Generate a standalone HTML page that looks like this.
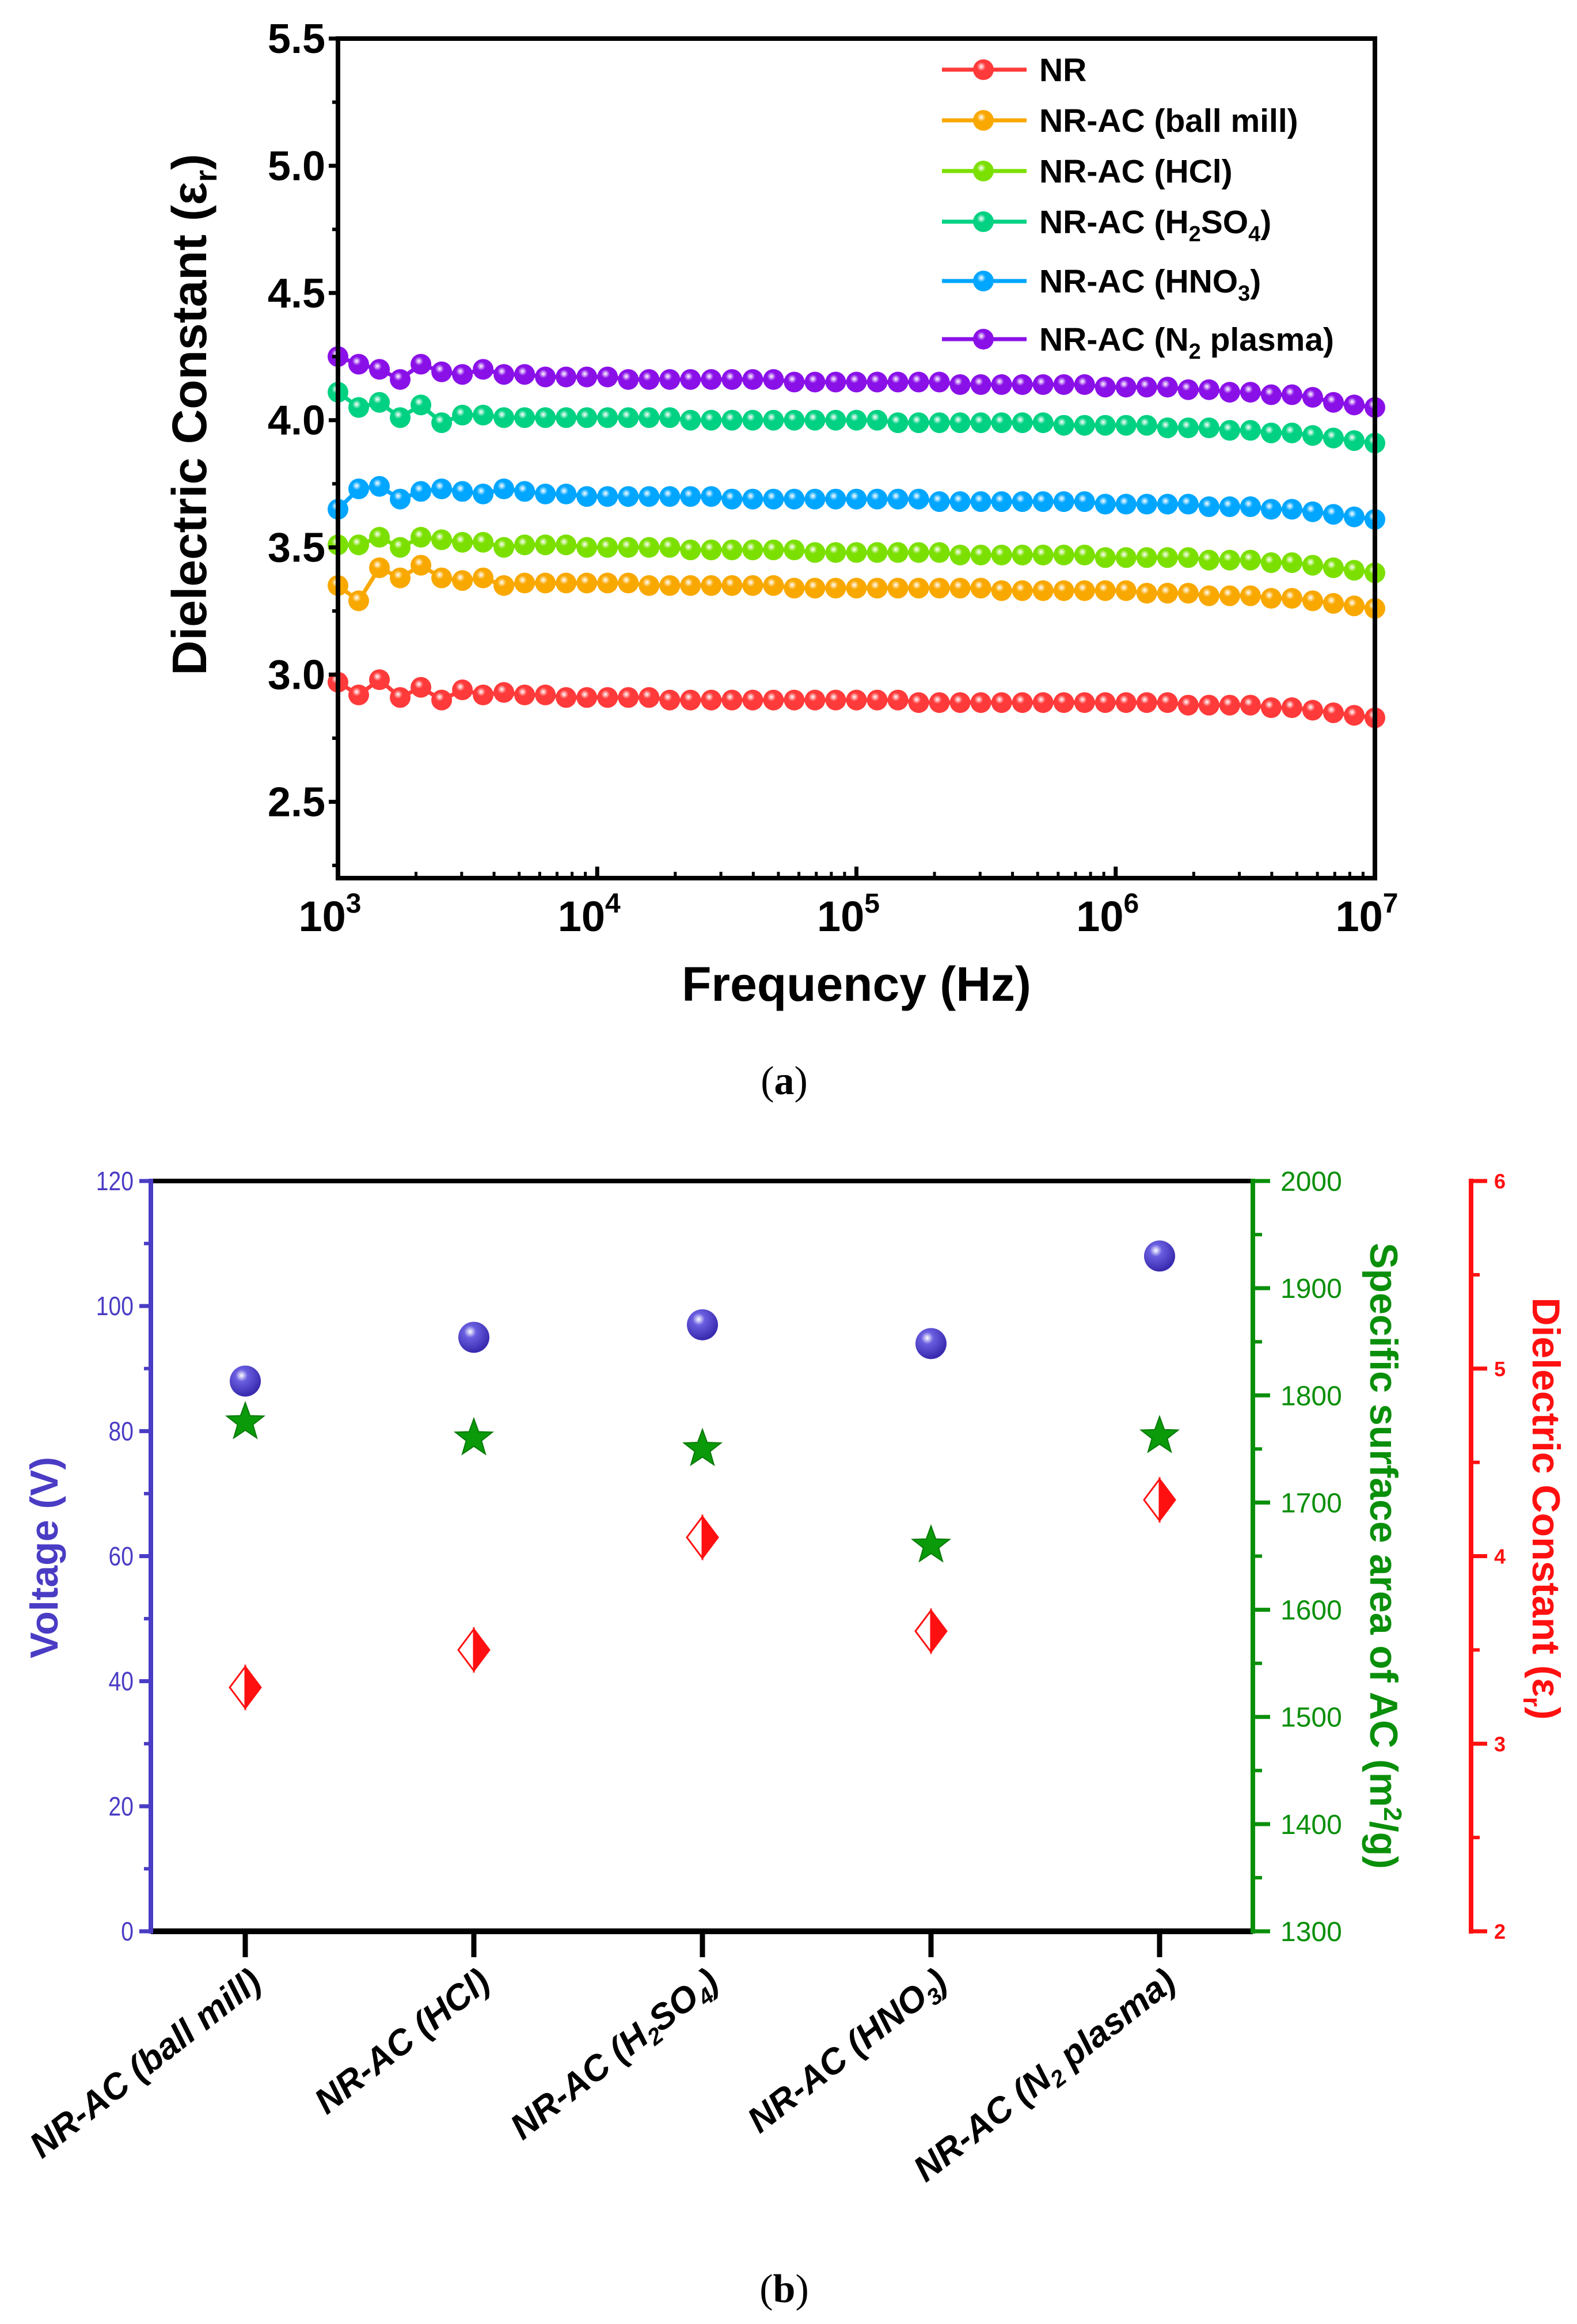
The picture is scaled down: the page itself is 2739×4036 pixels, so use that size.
<!DOCTYPE html>
<html><head><meta charset="utf-8"><style>
html,body{margin:0;padding:0;background:#fff}
svg{display:block}
text{font-family:"Liberation Sans",sans-serif}
</style></head><body>
<svg id="fig" width="2739" height="4036" viewBox="0 0 2739 4036" xmlns="http://www.w3.org/2000/svg">
<defs id="defs"></defs>
<g id="topChart"></g>
<g id="botChart"></g>
<text x="1362" y="1900" font-size="70" text-anchor="middle" style="font-family:'Liberation Serif',serif">(<tspan font-weight="bold">a</tspan>)</text>
<text x="1362" y="3998" font-size="70" text-anchor="middle" style="font-family:'Liberation Serif',serif">(<tspan font-weight="bold">b</tspan>)</text>
</svg>
<script>
// ---------- Chart (a) data ----------
const freqExp = [3.00,3.08,3.16,3.24,3.32,3.40,3.48,3.56,3.64,3.72,3.80,3.88,3.96,4.04,4.12,4.20,4.28,4.36,4.44,4.52,4.60,4.68,4.76,4.84,4.92,5.00,5.08,5.16,5.24,5.32,5.40,5.48,5.56,5.64,5.72,5.80,5.88,5.96,6.04,6.12,6.20,6.28,6.36,6.44,6.52,6.60,6.68,6.76,6.84,6.92,7.00];
const seriesNames = ["NR","NR-AC (ball mill)","NR-AC (HCl)","NR-AC (H2SO4)","NR-AC (HNO3)","NR-AC (N2 plasma)"];
const nrVals = [2.97,2.92,2.98,2.91,2.95,2.90,2.94,2.92,2.93,2.92,2.92,2.91,2.91,2.91,2.91,2.91,2.90,2.90,2.90,2.90,2.90,2.90,2.90,2.90,2.90,2.90,2.90,2.90,2.89,2.89,2.89,2.89,2.89,2.89,2.89,2.89,2.89,2.89,2.89,2.89,2.89,2.88,2.88,2.88,2.88,2.87,2.87,2.86,2.85,2.84,2.83];
const ballVals = [3.35,3.29,3.42,3.38,3.43,3.38,3.37,3.38,3.35,3.36,3.36,3.36,3.36,3.36,3.36,3.35,3.35,3.35,3.35,3.35,3.35,3.35,3.34,3.34,3.34,3.34,3.34,3.34,3.34,3.34,3.34,3.34,3.33,3.33,3.33,3.33,3.33,3.33,3.33,3.32,3.32,3.32,3.31,3.31,3.31,3.30,3.30,3.29,3.28,3.27,3.26];
const hclVals = [3.51,3.51,3.54,3.50,3.54,3.53,3.52,3.52,3.50,3.51,3.51,3.51,3.50,3.50,3.50,3.50,3.50,3.49,3.49,3.49,3.49,3.49,3.49,3.48,3.48,3.48,3.48,3.48,3.48,3.48,3.47,3.47,3.47,3.47,3.47,3.47,3.47,3.46,3.46,3.46,3.46,3.46,3.45,3.45,3.45,3.44,3.44,3.43,3.42,3.41,3.40];
const h2so4Vals = [4.11,4.05,4.07,4.01,4.06,3.99,4.02,4.02,4.01,4.01,4.01,4.01,4.01,4.01,4.01,4.01,4.01,4.00,4.00,4.00,4.00,4.00,4.00,4.00,4.00,4.00,4.00,3.99,3.99,3.99,3.99,3.99,3.99,3.99,3.99,3.98,3.98,3.98,3.98,3.98,3.97,3.97,3.97,3.96,3.96,3.95,3.95,3.94,3.93,3.92,3.91];
const hno3Vals = [3.65,3.73,3.74,3.69,3.72,3.73,3.72,3.71,3.73,3.72,3.71,3.71,3.70,3.70,3.70,3.70,3.70,3.70,3.70,3.69,3.69,3.69,3.69,3.69,3.69,3.69,3.69,3.69,3.69,3.68,3.68,3.68,3.68,3.68,3.68,3.68,3.68,3.67,3.67,3.67,3.67,3.67,3.66,3.66,3.66,3.65,3.65,3.64,3.63,3.62,3.61];
const n2Vals = [4.25,4.22,4.20,4.16,4.22,4.19,4.18,4.20,4.18,4.18,4.17,4.17,4.17,4.17,4.16,4.16,4.16,4.16,4.16,4.16,4.16,4.16,4.15,4.15,4.15,4.15,4.15,4.15,4.15,4.15,4.14,4.14,4.14,4.14,4.14,4.14,4.14,4.13,4.13,4.13,4.13,4.12,4.12,4.11,4.11,4.10,4.10,4.09,4.07,4.06,4.05];
const yTicksA = [2.5,3.0,3.5,4.0,4.5,5.0,5.5];
const xTicksA = [3,4,5,6,7];
// ---------- Chart (b) data ----------
const categories = ["ball mill","HCl","H2SO4","HNO3","N2 plasma"];
const voltageVals = [88,95,97,94,108];
const surfaceVals = [1775,1760,1750,1660,1762];
const dielVals = [3.3,3.5,4.1,3.6,4.3];
const voltTicks = [0,20,40,60,80,100,120];
const surfTicks = [1300,1400,1500,1600,1700,1800,1900,2000];
const dielTicks = [2,3,4,5,6];

const NS="http://www.w3.org/2000/svg";
function mk(tag,attrs,parent){const e=document.createElementNS(NS,tag);for(const k in attrs)e.setAttribute(k,attrs[k]);if(parent)parent.appendChild(e);return e;}
const defsEl=document.getElementById('defs');

// ===== Chart A =====
const A={l:587,r:2388,t:67,b:1525,ymin:2.2,ymax:5.5,xmin:3,xmax:7};
const ax=v=>A.l+(v-A.xmin)/(A.xmax-A.xmin)*(A.r-A.l);
const ay=v=>A.b-(v-A.ymin)/(A.ymax-A.ymin)*(A.b-A.t);
const topG=document.getElementById('topChart');
const colors=["#ff3a3a","#f9a800","#7be000","#00d182","#00a6ff","#8a10e8"];
const allVals=[nrVals,ballVals,hclVals,h2so4Vals,hno3Vals,n2Vals];
colors.forEach((c,i)=>{
  const g=mk('radialGradient',{id:'g'+i,cx:'0.4',cy:'0.35',r:'0.6'},defsEl);
  mk('stop',{offset:'0','stop-color':'#ffffff'},g);
  mk('stop',{offset:'0.35','stop-color':c},g);
  mk('stop',{offset:'1','stop-color':c},g);
});
allVals.forEach((vals,i)=>{
  const sg=mk('g',{},topG);
  
  
  const n=Math.min(vals.length,freqExp.length);
  let d='';
  for(let k=0;k<n;k++){d+=(k?'L':'M')+ax(freqExp[k]).toFixed(1)+','+ay(vals[k]).toFixed(1);}
  mk('path',{d:d,fill:'none',stroke:colors[i],'stroke-width':7},sg);
  for(let k=0;k<n;k++){
    const c=mk('circle',{cx:ax(freqExp[k]),cy:ay(vals[k]),r:18,fill:'url(#g'+i+')'},sg);
    
    
  }
});
const fr=mk('rect',{x:A.l,y:A.t,width:A.r-A.l,height:A.b-A.t,fill:'none',stroke:'#000','stroke-width':8},topG);


yTicksA.forEach(v=>{
  mk('line',{x1:A.l-16,x2:A.l,y1:ay(v),y2:ay(v),stroke:'#000','stroke-width':7},topG);
  mk('line',{x1:A.l-10,x2:A.l,y1:ay(v-0.25),y2:ay(v-0.25),stroke:'#000','stroke-width':6},topG);
  const t=mk('text',{x:A.l-22,y:ay(v)+25,'font-size':72,'font-weight':'bold','text-anchor':'end'},topG);
  t.textContent=v.toFixed(1);
  
  
});
xTicksA.forEach(e=>{
  mk('line',{x1:ax(e),x2:ax(e),y1:A.b,y2:A.b-20,stroke:'#000','stroke-width':7},topG);
  if(e<7){for(let m=2;m<10;m++){const xx=ax(e+Math.log10(m));mk('line',{x1:xx,x2:xx,y1:A.b,y2:A.b-11,stroke:'#000','stroke-width':5},topG);}}
  const t=mk('text',{x:ax(e)-14,y:A.b+92,'font-size':74,'font-weight':'bold','text-anchor':'middle'},topG);
  t.innerHTML='10<tspan font-size="48" dy="-32">'+e+'</tspan>';
  
  
});
let tt=mk('text',{x:(A.l+A.r)/2,y:1738,'font-size':84,'font-weight':'bold','text-anchor':'middle'},topG);
tt.textContent='Frequency (Hz)';


tt=mk('text',{x:0,y:0,'font-size':84,'font-weight':'bold','text-anchor':'middle',transform:'translate(358,720) rotate(-90)'},topG);
tt.innerHTML='Dielectric Constant (ε<tspan font-size="54" dy="18">r</tspan><tspan dy="-18">)</tspan>';


const legLabels=['NR','NR-AC (ball mill)','NR-AC (HCl)','NR-AC (H<tspan font-size="38" dy="14">2</tspan><tspan dy="-14">SO</tspan><tspan font-size="38" dy="14">4</tspan><tspan dy="-14">)</tspan>','NR-AC (HNO<tspan font-size="38" dy="14">3</tspan><tspan dy="-14">)</tspan>','NR-AC (N<tspan font-size="38" dy="14">2</tspan><tspan dy="-14"> plasma)</tspan>'];
const legY=[121,209,297,385,488,589];
legLabels.forEach((lab,i)=>{
  const g=mk('g',{},topG);
  
  
  mk('line',{x1:1636,x2:1783,y1:legY[i],y2:legY[i],stroke:colors[i],'stroke-width':7},g);
  mk('circle',{cx:1708,cy:legY[i],r:18,fill:'url(#g'+i+')'},g);
  const t=mk('text',{x:1805,y:legY[i]+20,'font-size':57,'font-weight':'bold'},g);
  t.innerHTML=lab;
});

// ===== Chart B =====
const B={l:262,r:2176,t:2051,b:3354,redX:2555};
const botG=document.getElementById('botChart');
const bx=i=>426+i*397;
const yV=v=>B.b-v/120*(B.b-B.t);
const yS=v=>B.b-(v-1300)/700*(B.b-B.t);
const yD=v=>B.b-(v-2)/4*(B.b-B.t);
const blue='#4a3cc4',green='#0a8f0a',red='#ff1010';
let g0=mk('radialGradient',{id:'gs',cx:'0.38',cy:'0.32',r:'0.65'},defsEl);
mk('stop',{offset:'0','stop-color':'#ffffff'},g0);
mk('stop',{offset:'0.3','stop-color':'#6a5ee0'},g0);
mk('stop',{offset:'1','stop-color':'#3a2cb0'},g0);
let e=mk('line',{x1:B.l,x2:B.r,y1:B.t,y2:B.t,stroke:'#000','stroke-width':8},botG);

e=mk('line',{x1:B.l,x2:B.r,y1:B.b,y2:B.b,stroke:'#000','stroke-width':10},botG);

e=mk('line',{x1:B.l,x2:B.l,y1:B.t-4,y2:B.b+4,stroke:blue,'stroke-width':8},botG);

e=mk('line',{x1:B.r,x2:B.r,y1:B.t-4,y2:B.b+4,stroke:green,'stroke-width':8},botG);

e=mk('line',{x1:B.redX,x2:B.redX,y1:B.t-4,y2:B.b+4,stroke:red,'stroke-width':8},botG);

voltTicks.forEach(v=>{
  mk('line',{x1:B.l-20,x2:B.l,y1:yV(v),y2:yV(v),stroke:blue,'stroke-width':7},botG);
  if(v<120)mk('line',{x1:B.l-12,x2:B.l,y1:yV(v+10),y2:yV(v+10),stroke:blue,'stroke-width':6},botG);
  const t=mk('text',{x:B.l-30,y:yV(v)+16,'font-size':46,fill:blue,'text-anchor':'end',transform:'translate('+(B.l-30)+',0) scale(0.85,1) translate('+(-(B.l-30))+',0)'},botG);
  t.textContent=v;
});
surfTicks.forEach(v=>{
  mk('line',{x1:B.r,x2:B.r+30,y1:yS(v),y2:yS(v),stroke:green,'stroke-width':7},botG);
  if(v<2000)mk('line',{x1:B.r,x2:B.r+16,y1:yS(v+50),y2:yS(v+50),stroke:green,'stroke-width':6},botG);
  const t=mk('text',{x:B.r+48,y:yS(v)+17,'font-size':48,fill:green},botG);
  t.textContent=v;
});
dielTicks.forEach(v=>{
  mk('line',{x1:B.redX,x2:B.redX+28,y1:yD(v),y2:yD(v),stroke:red,'stroke-width':7},botG);
  if(v<6)mk('line',{x1:B.redX,x2:B.redX+15,y1:yD(v+0.5),y2:yD(v+0.5),stroke:red,'stroke-width':6},botG);
  const t=mk('text',{x:B.redX+40,y:yD(v)+13,'font-size':36,'font-weight':'bold',fill:red},botG);
  t.textContent=v;
});
tt=mk('text',{x:0,y:0,'font-size':68,'font-weight':'bold',fill:blue,'text-anchor':'middle',transform:'translate(100,2705) rotate(-90)'},botG);
tt.textContent='Voltage (V)';
tt=mk('text',{x:0,y:0,'font-size':68,'font-weight':'bold',fill:green,'text-anchor':'middle',transform:'translate(2380,2702) rotate(90)'},botG);
tt.innerHTML='Specific surface area of AC (m<tspan font-size="44" dy="-24">2</tspan><tspan dy="24">/g)</tspan>';

tt=mk('text',{x:0,y:0,'font-size':68,'font-weight':'bold',fill:red,'text-anchor':'middle',transform:'translate(2662,2620) rotate(90)'},botG);
tt.innerHTML='Dielectric Constant (ε<tspan font-size="44" dy="16">r</tspan><tspan dy="-16">)</tspan>';

const catLabels=['NR-AC (ball mill)','NR-AC (HCl)','NR-AC (H<tspan font-size="40" dy="12">2</tspan><tspan dy="-12">SO</tspan><tspan font-size="40" dy="12">4</tspan><tspan dy="-12">)</tspan>','NR-AC (HNO<tspan font-size="40" dy="12">3</tspan><tspan dy="-12">)</tspan>','NR-AC (N<tspan font-size="40" dy="12">2</tspan><tspan dy="-12"> plasma)</tspan>'];
categories.forEach((c,i)=>{
  mk('line',{x1:bx(i),x2:bx(i),y1:B.b,y2:B.b+45,stroke:'#000','stroke-width':9},botG);
  const t=mk('text',{x:0,y:0,'font-size':62,'font-weight':'bold','font-style':'italic','text-anchor':'end',transform:'translate('+(bx(i)+32)+','+(B.b+95)+') rotate(-38)'},botG);
  t.innerHTML=catLabels[i];
  
});
categories.forEach((c,i)=>{
  const x=bx(i);
  const dy=yD(dielVals[i]);
  const dg=mk('g',{},botG);
  
  mk('path',{d:`M${x},${dy-36} L${x-27},${dy} L${x},${dy+36} Z`,fill:'#fff',stroke:red,'stroke-width':3},dg);
  mk('path',{d:`M${x},${dy-36} L${x+27},${dy} L${x},${dy+36} Z`,fill:red,stroke:red,'stroke-width':3},dg);
  const sy=yS(surfaceVals[i]);
  let pts='';
  for(let k=0;k<10;k++){const rr=k%2?14:34;const a=-Math.PI/2+k*Math.PI/5;pts+=(x+rr*Math.cos(a)).toFixed(1)+','+(sy+rr*Math.sin(a)).toFixed(1)+' ';}
  const st=mk('polygon',{points:pts,fill:'#0a9a0a',stroke:'#087a08','stroke-width':2},botG);
  
  const vy=yV(voltageVals[i]);
  const sp=mk('circle',{cx:x,cy:vy,r:27,fill:'url(#gs)'},botG);
  
});
</script>
</body></html>
